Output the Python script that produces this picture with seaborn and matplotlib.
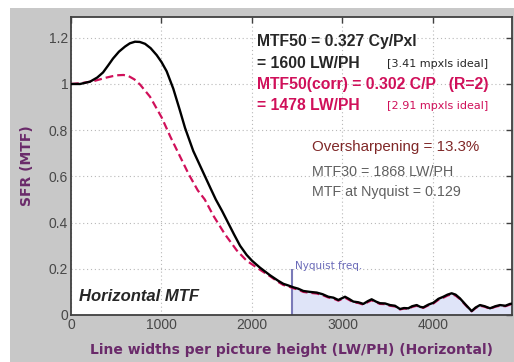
import numpy as np
import matplotlib
matplotlib.use("Agg")
import matplotlib.pyplot as plt
import seaborn as sns
from matplotlib.patches import Rectangle

# SFR curves (LW/PH vs MTF)
lwph_black = [0, 100, 210, 290, 354, 410, 464, 530, 597, 650, 707, 760, 818, 880, 947,
              1000, 1057, 1130, 1200, 1260, 1351, 1481, 1540, 1600, 1670, 1735, 1800,
              1868, 1941, 2000, 2088, 2199, 2290, 2346, 2400, 2456, 2510, 2567, 2640,
              2715, 2780, 2843, 2900, 2954, 3028, 3070, 3120, 3175, 3230, 3280, 3322,
              3370, 3414, 3470, 3525, 3580, 3635, 3680, 3727, 3770, 3820, 3860, 3893,
              3950, 4004, 4060, 4114, 4160, 4206, 4250, 4298, 4360, 4427, 4470, 4519,
              4570, 4630, 4690, 4740, 4800, 4851, 4900]
mtf_black = [1.0, 1.0, 1.01, 1.028, 1.05, 1.08, 1.11, 1.14, 1.162, 1.176, 1.183, 1.182,
             1.174, 1.155, 1.125, 1.095, 1.055, 0.98, 0.89, 0.81, 0.71, 0.6, 0.55, 0.5,
             0.45, 0.4, 0.35, 0.3, 0.26, 0.235, 0.205, 0.172, 0.148, 0.135, 0.128, 0.12,
             0.114, 0.104, 0.1, 0.097, 0.09, 0.079, 0.075, 0.065, 0.079, 0.07, 0.058,
             0.055, 0.048, 0.06, 0.068, 0.058, 0.051, 0.05, 0.043, 0.04, 0.026, 0.03,
             0.029, 0.038, 0.043, 0.035, 0.033, 0.045, 0.053, 0.07, 0.079, 0.088, 0.094,
             0.088, 0.072, 0.045, 0.017, 0.032, 0.043, 0.038, 0.029, 0.038, 0.043, 0.04,
             0.048, 0.05]

lwph_red = [0, 120, 246, 320, 394, 460, 523, 580, 633, 700, 762, 873, 1002, 1100, 1200,
            1300, 1400, 1478, 1573, 1700, 1831, 1941, 2088, 2199, 2290, 2346, 2400, 2456,
            2510, 2567, 2640, 2715, 2780, 2843, 2900, 2954, 3028, 3070, 3120, 3175, 3230,
            3280, 3322, 3370, 3414, 3470, 3525, 3580, 3635, 3680, 3727, 3770, 3820, 3860,
            3893, 3950, 4004, 4060, 4114, 4160, 4206, 4250, 4298, 4360, 4427, 4470, 4519,
            4570, 4630, 4690, 4740, 4800, 4851, 4900]
mtf_red = [1.0, 1.004, 1.012, 1.02, 1.028, 1.034, 1.038, 1.039, 1.035, 1.02, 0.998, 0.945,
           0.855, 0.77, 0.69, 0.61, 0.54, 0.5, 0.43, 0.35, 0.28, 0.235, 0.196, 0.168,
           0.143, 0.13, 0.124, 0.116, 0.11, 0.1, 0.096, 0.093, 0.086, 0.076, 0.071, 0.062,
           0.075, 0.066, 0.055, 0.052, 0.045, 0.056, 0.064, 0.055, 0.048, 0.047, 0.04,
           0.037, 0.024, 0.028, 0.027, 0.035, 0.04, 0.033, 0.031, 0.042, 0.05, 0.066,
           0.075, 0.084, 0.09, 0.084, 0.069, 0.043, 0.016, 0.03, 0.04, 0.036, 0.027,
           0.036, 0.04, 0.038, 0.045, 0.047]

nyquist_lwph = 2440
nyquist_mark_top = 0.2

x_ticks = [0, 1000, 2000, 3000, 4000]
y_ticks = [0, 0.2, 0.4, 0.6, 0.8, 1.0, 1.2]
y_tick_labels = ["0", "0.2", "0.4", "0.6", "0.8", "1", "1.2"]

red = "#d0105a"
purple = "#6a2a6a"

sns.set_style("white")
plt.rcParams["font.family"] = ["Liberation Sans", "DejaVu Sans"]

fig = plt.figure(figsize=(5.14, 3.62), dpi=100)
fig.patch.set_facecolor("white")
fig.patches.append(Rectangle((10 / 514, 0), 1, 1 - 8 / 362, transform=fig.transFigure,
                             facecolor="#c8c8c8", edgecolor="none", zorder=-10))
ax = fig.add_axes([71 / 514, 1 - 315 / 362, 441 / 514, 298 / 362])
ax.set_facecolor("white")

# shaded region past Nyquist
xb = np.array(lwph_black, dtype=float)
yb = np.array(mtf_black)
fx = np.concatenate([[nyquist_lwph], xb[xb > nyquist_lwph]])
fy = np.interp(fx, xb, yb)
ax.fill_between(fx, 0, fy, color="#dfe4f8", lw=0, zorder=1)
ax.vlines(nyquist_lwph, 0, nyquist_mark_top, color="#7a7ab8", lw=1.5, zorder=2)
ax.text(nyquist_lwph + 30, nyquist_mark_top + 0.012, "Nyquist freq.", color="#6a6ab8",
        family="DejaVu Sans", fontsize=7.5, va="center", ha="left")

sns.lineplot(x=lwph_red, y=mtf_red, ax=ax, color=red, lw=1.6, sort=False,
             estimator=None, zorder=3, linestyle=(0, (3.5, 1.8)))
sns.lineplot(x=lwph_black, y=mtf_black, ax=ax, color="black", lw=1.7, sort=False,
             estimator=None, zorder=4)

ax.set_xlim(0, 4873)
ax.set_ylim(0, 1.29)
ax.set_xticks(x_ticks)
ax.set_yticks(y_ticks)
ax.set_yticklabels(y_tick_labels)
ax.grid(True, color="#b8b8b8", lw=0.8, linestyle=(0, (1, 2.5)))
ax.tick_params(direction="in", length=4, width=1, top=True, right=True,
               labelsize=10, labelcolor="#484848", color="#404040", pad=2)
for s in ax.spines.values():
    s.set_color("#404040")
    s.set_linewidth(1.3)

ax.set_xlabel("Line widths per picture height (LW/PH) (Horizontal)", family="DejaVu Sans",
              fontweight="bold", fontsize=10, color=purple, labelpad=8)
ax.set_ylabel("SFR (MTF)", family="DejaVu Sans", fontweight="bold", fontsize=10,
              color=purple, labelpad=11)

# annotations
big = 11.3
ax.text(2055, 1.182, "MTF50 = 0.327 Cy/Pxl", fontsize=big, fontweight="bold", va="center")
ax.text(2055, 1.087, "= 1600 LW/PH", fontsize=big, fontweight="bold", va="center")
ax.text(3492, 1.087, "[3.41 mpxls ideal]", family="DejaVu Sans", fontsize=8, va="center")
ax.text(2055, 0.996, "MTF50(corr) = 0.302 C/P   (R=2)", fontsize=big, fontweight="bold",
        va="center", color=red)
ax.text(2055, 0.905, "= 1478 LW/PH", fontsize=big, fontweight="bold", va="center", color=red)
ax.text(3492, 0.905, "[2.91 mpxls ideal]", family="DejaVu Sans", fontsize=8, va="center",
        color=red)
ax.text(2663, 0.727, "Oversharpening = 13.3%", fontsize=10.9, va="center", color="#802828")
ax.text(2663, 0.62, "MTF30 = 1868 LW/PH", fontsize=10.3, va="center", color="#606060")
ax.text(2663, 0.534, "MTF at Nyquist = 0.129", fontsize=10.3, va="center", color="#606060")
ax.text(88, 0.078, "Horizontal MTF", fontsize=12, fontweight="bold", fontstyle="italic",
        va="center")

fig.savefig("out.png", dpi=100, facecolor=fig.get_facecolor())
